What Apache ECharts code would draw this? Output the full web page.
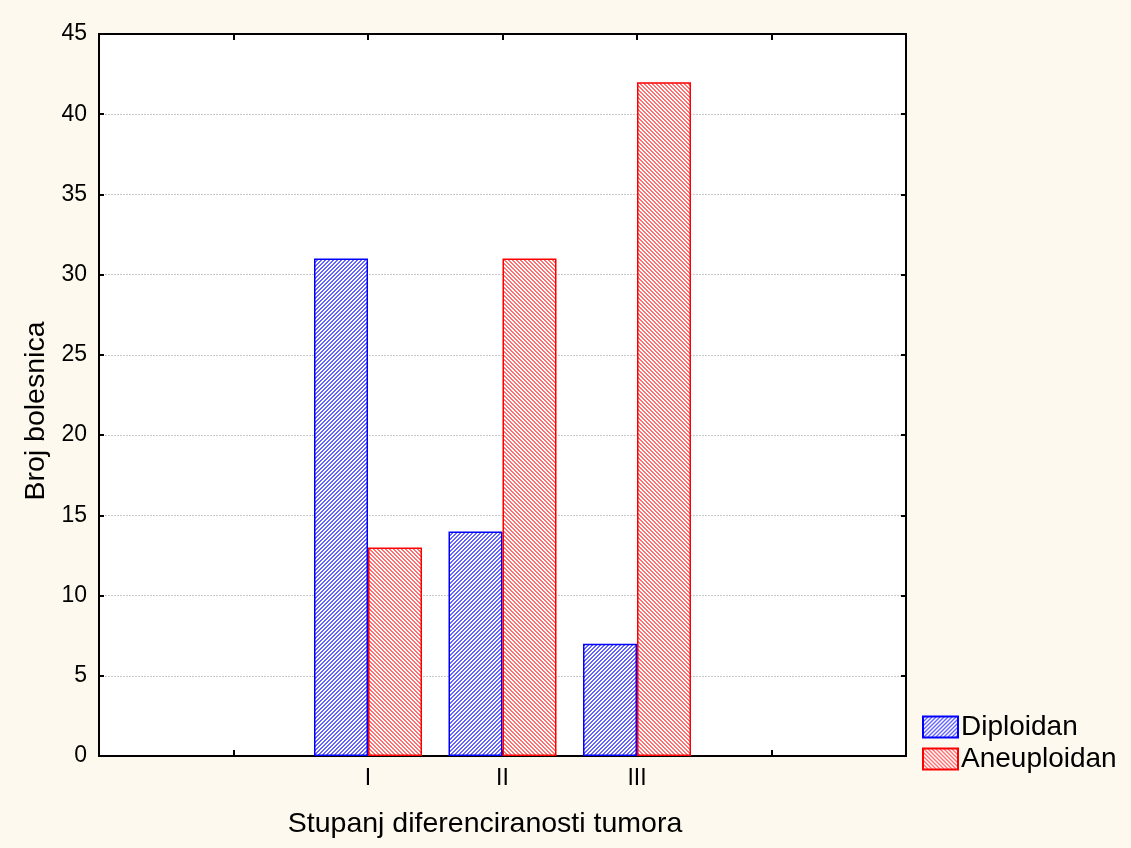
<!DOCTYPE html>
<html>
<head>
<meta charset="utf-8">
<script src="https://cdn.jsdelivr.net/npm/echarts@6/dist/echarts.min.js"></script>
<style>
html,body{margin:0;padding:0;background:#fdf9ee;}
#c{width:1131px;height:848px;}
</style>
</head>
<body>
<div id="c"></div>
<script>
const categories = ['', '', 'I', 'II', 'III', '', ''];
const diploidan = ['-', '-', 31, 14, 7, '-', '-'];
const aneuploidan = ['-', '-', 13, 31, 42, '-', '-'];
const seriesNames = ['Diploidan', 'Aneuploidan'];
const yTicks = {min: 0, max: 45, interval: 5};
const xTitle = 'Stupanj diferenciranosti tumora';
const yTitle = 'Broj bolesnica';

function hatch(fg, dir) {
  const c = document.createElement('canvas');
  c.width = 4; c.height = 4;
  const ctx = c.getContext('2d');
  ctx.fillStyle = '#ffffff';
  ctx.fillRect(0, 0, 4, 4);
  ctx.fillStyle = fg;
  for (let x = 0; x < 4; x++) {
    for (let y = 0; y < 4; y++) {
      const v = dir > 0 ? (x + y) % 4 : ((x - y) % 4 + 4) % 4;
      if (v === 0 || v === 1) ctx.fillRect(x, y, 1, 1);
    }
  }
  return {image: c, repeat: 'repeat'};
}

const FONT = "'Liberation Sans', Arial, sans-serif";
const chart = echarts.init(document.getElementById('c'));
chart.setOption({
  backgroundColor: '#fdf9ee',
  animation: false,
  grid: {left: 99, top: 34, width: 807, height: 722, show: true, backgroundColor: '#ffffff', borderColor: '#000', borderWidth: 2},
  legend: {
    orient: 'vertical', left: 922, top: 713, padding: 0, itemWidth: 35, itemHeight: 21, itemGap: 4,
    icon: 'rect',
    textStyle: {fontSize: 28, color: '#000', fontFamily: FONT, padding: [0, 0, 0, -2]},
    data: seriesNames
  },
  xAxis: [{
    type: 'category', data: categories, boundaryGap: false, position: 'bottom',
    axisLine: {show: true, onZero: false, lineStyle: {color: '#000', width: 2}},
    axisTick: {show: true, inside: true, length: 6, lineStyle: {color: '#000', width: 2}},
    axisLabel: {color: '#000', fontSize: 23, fontFamily: FONT, margin: 11, interval: 0},
    splitLine: {show: false}
  }, {
    type: 'category', data: categories, boundaryGap: false, position: 'top',
    axisLine: {show: true, onZero: false, lineStyle: {color: '#000', width: 2}},
    axisTick: {show: true, inside: true, length: 6, lineStyle: {color: '#000', width: 2}},
    axisLabel: {show: false}
  }],
  yAxis: [{
    type: 'value', min: yTicks.min, max: yTicks.max, interval: yTicks.interval,
    axisLine: {show: true, onZero: false, lineStyle: {color: '#000', width: 2}},
    axisTick: {show: true, inside: true, length: 5, lineStyle: {color: '#000', width: 2}},
    axisLabel: {color: '#000', fontSize: 23, fontFamily: FONT, margin: 12},
    splitLine: {show: true, lineStyle: {color: '#c8c8c8', type: [2, 1], width: 1}}
  }, {
    type: 'value', min: yTicks.min, max: yTicks.max, interval: yTicks.interval, position: 'right',
    axisLine: {show: true, onZero: false, lineStyle: {color: '#000', width: 2}},
    axisTick: {show: true, inside: true, length: 5, lineStyle: {color: '#000', width: 2}},
    axisLabel: {show: false}, splitLine: {show: false}
  }],
  graphic: [
    {type: 'text', x: 485, y: 824, style: {text: xTitle, fontSize: 28.5, fontFamily: FONT, fill: '#000', align: 'center', verticalAlign: 'middle'}},
    {type: 'text', rotation: Math.PI / 2, x: 36, y: 411, style: {text: yTitle, fontSize: 28.5, fontFamily: FONT, fill: '#000', align: 'center', verticalAlign: 'middle'}}
  ],
  series: [{
    name: seriesNames[0], type: 'bar', data: diploidan, barWidth: 54, barGap: '0%',
    itemStyle: {color: hatch('#6464ff', 1), borderColor: '#0000ff', borderWidth: 1.5}
  }, {
    name: seriesNames[1], type: 'bar', data: aneuploidan, barWidth: 54, barGap: '0%',
    itemStyle: {color: hatch('#ff7070', -1), borderColor: '#ff0000', borderWidth: 1.5}
  }]
});
</script>
</body>
</html>
